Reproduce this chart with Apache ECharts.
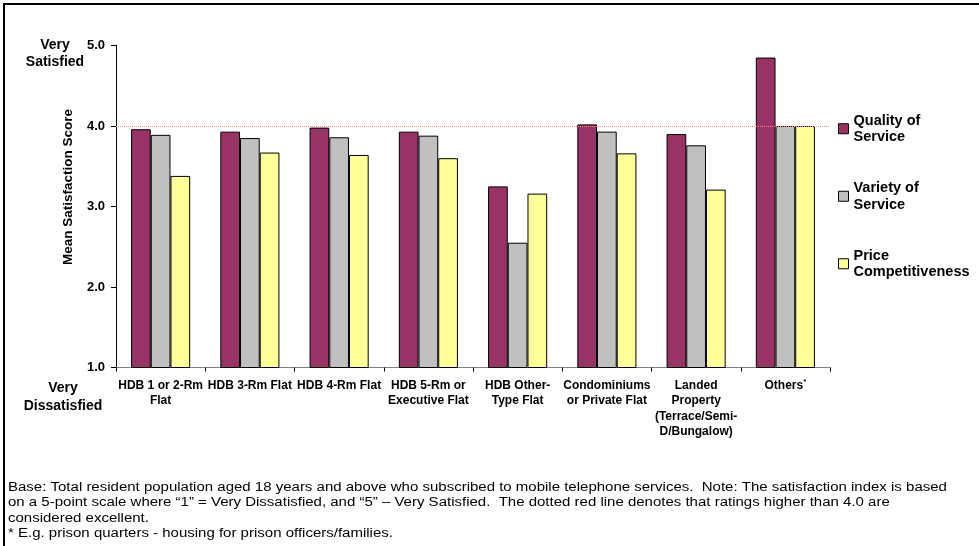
<!DOCTYPE html>
<html>
<head>
<meta charset="utf-8">
<script src="https://cdn.jsdelivr.net/npm/echarts@6/dist/echarts.min.js"></script>
<style>
  html, body { margin: 0; padding: 0; background: #ffffff; }
  #chart { width: 979px; height: 546px; }
</style>
</head>
<body>
<div id="chart"></div>
<script>
// Housing types (axis labels, with manual line breaks)
var categories = [
  'HDB 1 or 2-Rm\nFlat',
  'HDB 3-Rm Flat',
  'HDB 4-Rm Flat',
  'HDB 5-Rm or\nExecutive Flat',
  'HDB Other-\nType Flat',
  'Condominiums\nor Private Flat',
  'Landed\nProperty\n(Terrace/Semi-\nD/Bungalow)',
  'Others*'
];

// Mean satisfaction scores per housing type
var seriesNames = ['Quality of Service', 'Variety of Service', 'Price Competitiveness'];
var quality = [3.96, 3.93, 3.98, 3.93, 3.25, 4.02, 3.90, 4.85];
var variety = [3.89, 3.85, 3.86, 3.88, 2.55, 3.93, 3.76, 4.00];
var price   = [3.38, 3.67, 3.64, 3.60, 3.16, 3.66, 3.21, 4.00];

// Value axis ticks
var yTicks = [1.0, 2.0, 3.0, 4.0, 5.0];
var excellentLevel = 4.0;

var legendLabels = {
  'Quality of Service': 'Quality of\nService',
  'Variety of Service': 'Variety of\nService',
  'Price Competitiveness': 'Price\nCompetitiveness'
};

var footnote = [
  'Base: Total resident population aged 18 years and above who subscribed to mobile telephone services.  Note: The satisfaction index is based',
  'on a 5-point scale where \u201C1\u201D = Very Dissatisfied, and \u201C5\u201D \u2013 Very Satisfied.  The dotted red line denotes that ratings higher than 4.0 are',
  'considered excellent.',
  '* E.g. prison quarters - housing for prison officers/families.'
].join('\n');

var FONT = '"Liberation Sans", Arial, Helvetica, sans-serif';
var colors = ['#993366', '#C0C0C0', '#FFFF99'];

var chart = echarts.init(document.getElementById('chart'), null, { renderer: 'canvas' });

function barSeries(name, data, color, extra) {
  var s = {
    name: name,
    type: 'bar',
    data: data,
    barWidth: 19.7,
    barGap: '0%',
    itemStyle: { color: color, borderColor: '#000000', borderWidth: 1 },
    emphasis: { disabled: true },
    animation: false
  };
  if (extra) Object.assign(s, extra);
  return s;
}

var option = {
  backgroundColor: '#ffffff',
  textStyle: { fontFamily: FONT },
  grid: { left: 116, right: 149, top: 45.5, bottom: 178.5, containLabel: false },
  legend: {
    orient: 'vertical',
    left: 838,
    top: 104,
    padding: 0,
    icon: 'rect',
    itemWidth: 10,
    itemHeight: 10,
    itemGap: 18,
    selectedMode: false,
    data: seriesNames,
    formatter: function (n) { return legendLabels[n]; },
    itemStyle: { borderColor: '#000000', borderWidth: 1 },
    textStyle: {
      fontFamily: FONT, fontSize: 14.5, fontWeight: 'bold', color: '#000000',
      lineHeight: 16.5, padding: [16.5, 0, 0, 0]
    }
  },
  xAxis: {
    type: 'category',
    data: categories,
    axisLine: { lineStyle: { color: '#808080', width: 1 } },
    axisTick: { show: true, length: 4, lineStyle: { color: '#000000' } },
    axisLabel: {
      interval: 0,
      margin: 10,
      color: '#000000',
      fontFamily: FONT,
      fontSize: 12,
      fontWeight: 'bold',
      lineHeight: 15.5,
      formatter: function (v) {
        if (v.charAt(v.length - 1) === '*') {
          return '{a|' + v.slice(0, -1) + '}{s|*}';
        }
        return v;
      },
      rich: {
        a: { fontFamily: FONT, fontSize: 12, fontWeight: 'bold', color: '#000', lineHeight: 15.5 },
        s: { fontFamily: FONT, fontSize: 8, fontWeight: 'bold', color: '#000', verticalAlign: 'top', lineHeight: 15.5, padding: [0, 0, 5, 0] }
      }
    },
    splitLine: { show: false }
  },
  yAxis: {
    type: 'value',
    min: yTicks[0],
    max: yTicks[yTicks.length - 1],
    interval: 1,
    axisLine: { show: true, lineStyle: { color: '#000000', width: 1 } },
    axisTick: { show: true, length: 5, lineStyle: { color: '#000000' } },
    axisLabel: {
      margin: 11,
      color: '#000000',
      fontFamily: FONT,
      fontSize: 13,
      fontWeight: 'bold',
      formatter: function (v) { return v.toFixed(1); }
    },
    splitLine: { show: false }
  },
  series: [
    barSeries(seriesNames[0], quality, colors[0], {
      markLine: {
        silent: true,
        symbol: ['none', 'none'],
        label: { show: false },
        lineStyle: { color: '#ff8080', type: 'dotted', width: 1 },
        data: [{ yAxis: excellentLevel }],
        animation: false
      }
    }),
    barSeries(seriesNames[1], variety, colors[1]),
    barSeries(seriesNames[2], price, colors[2])
  ],
  graphic: [
    {
      type: 'rect',
      silent: true,
      shape: { x: 4, y: 4, width: 1100, height: 700 },
      style: { fill: 'none', stroke: '#000000', lineWidth: 2 }
    },
    {
      // value axis title
      type: 'text',
      silent: true,
      x: 68, y: 187,
      rotation: Math.PI / 2,
      style: {
        text: 'Mean Satisfaction Score',
        fontFamily: FONT, fontSize: 13.5, fontWeight: 'bold', fill: '#000000',
        align: 'center', verticalAlign: 'middle'
      }
    },
    {
      type: 'text',
      silent: true,
      x: 55, y: 54,
      style: {
        text: 'Very\nSatisfied',
        fontFamily: FONT, fontSize: 14, fontWeight: 'bold', fill: '#000000',
        align: 'center', verticalAlign: 'middle', lineHeight: 17
      }
    },
    {
      type: 'text',
      silent: true,
      x: 63, y: 397,
      style: {
        text: 'Very\nDissatisfied',
        fontFamily: FONT, fontSize: 14, fontWeight: 'bold', fill: '#000000',
        align: 'center', verticalAlign: 'middle', lineHeight: 18
      }
    },
    {
      type: 'text',
      silent: true,
      x: 8, y: 480,
      scaleX: 1.25,
      style: {
        text: footnote,
        fontFamily: FONT, fontSize: 12, fill: '#000000',
        align: 'left', verticalAlign: 'top', lineHeight: 15.3
      }
    }
  ]
};

chart.setOption(option);
</script>
</body>
</html>
